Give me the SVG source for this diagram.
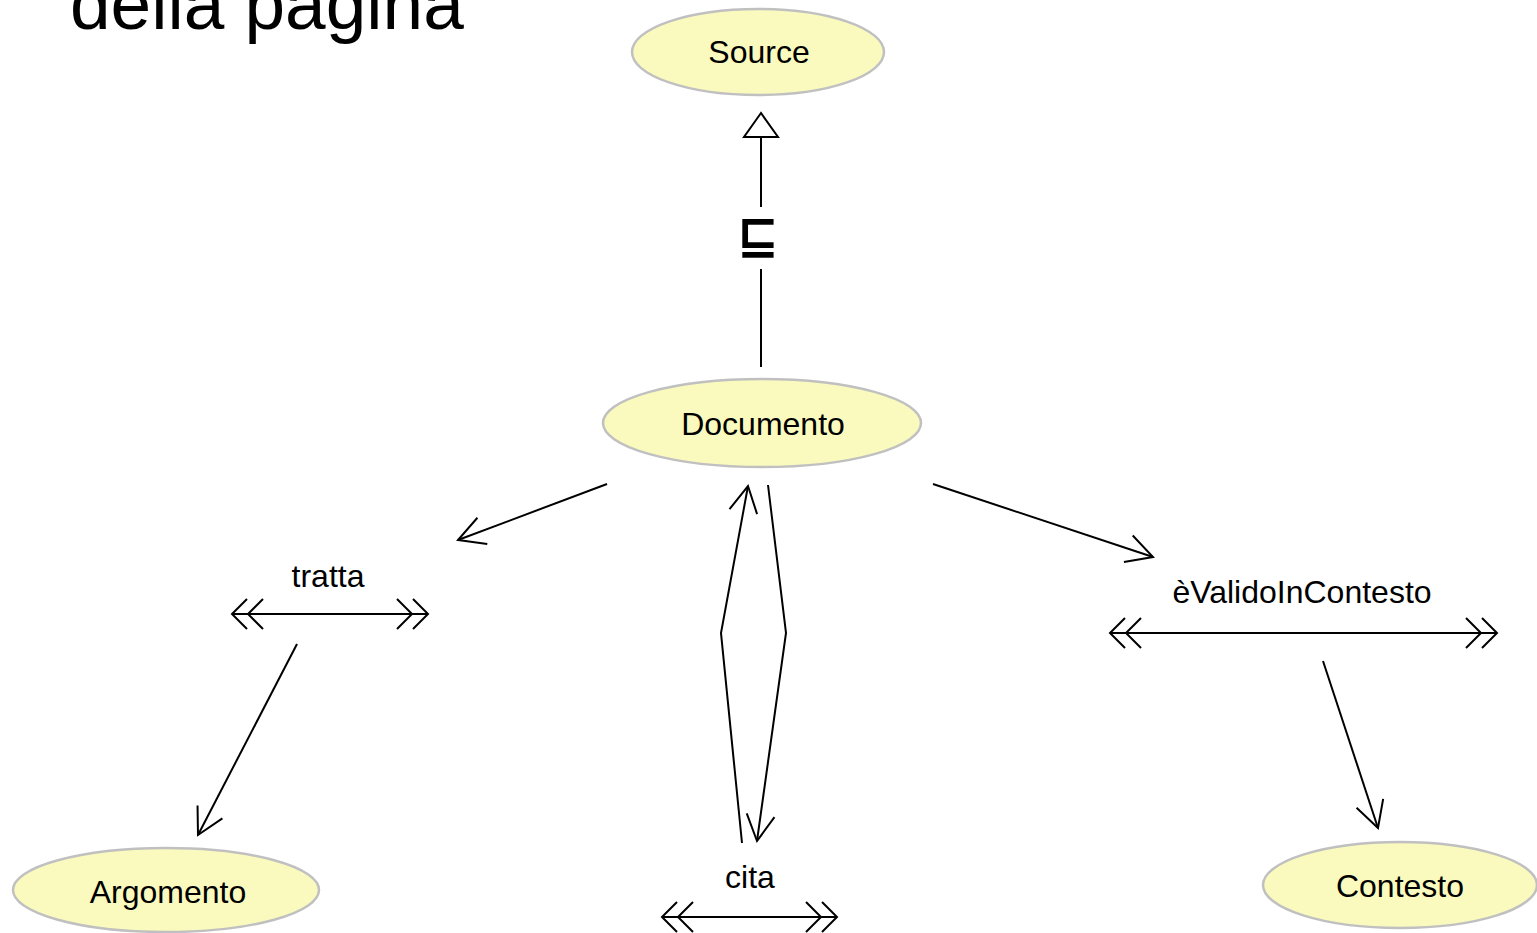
<svg xmlns="http://www.w3.org/2000/svg" xmlns:xlink="http://www.w3.org/1999/xlink" width="1537" height="933" viewBox="0 0 1537 933">
<style>
.node ellipse{fill:#fafabe;stroke:#c0c0c0;stroke-width:2.5}
.lbl{font-family:"Liberation Sans",Arial,sans-serif;font-size:32px;fill:#000;text-anchor:middle}
.edge{fill:none;stroke:#000;stroke-width:2}
.title{font-family:"Liberation Sans",Arial,sans-serif;font-size:73px;fill:#000}
</style>
<defs>
<marker id="open" markerUnits="userSpaceOnUse" markerWidth="60" markerHeight="60" refX="0" refY="0" viewBox="-40 -30 60 60" orient="auto" overflow="visible">
<path d="M-26,-14 L0,0 L-26,14" fill="none" stroke="#000" stroke-width="2"/>
</marker>
<path id="dchevL" d="M15,-15 L0,0 L15,15 M31,-15 L16,0 L31,15" fill="none" stroke="#000" stroke-width="2"/>
<path id="dchevR" d="M-15,-15 L0,0 L-15,15 M-31,-15 L-16,0 L-31,15" fill="none" stroke="#000" stroke-width="2"/>
</defs>

<text class="title" x="70" y="29">della pagina</text>

<g id="connectors">
  <!-- subclass Documento -> Source -->
  <g id="subclass">
    <polygon points="761,113 744,137 778,137" fill="#fff" stroke="#000" stroke-width="2"/>
    <line class="edge" x1="761" y1="137" x2="761" y2="207"/>
    <text x="758" y="252" font-family="DejaVu Sans,sans-serif" font-weight="bold" font-size="50" text-anchor="middle">⊑</text>
    <line class="edge" x1="761" y1="269" x2="761" y2="367"/>
  </g>
  <!-- tratta -->
  <g id="tratta">
    <line class="edge" x1="607" y1="484" x2="458" y2="540" marker-end="url(#open)"/>
    <text class="lbl" x="328" y="587">tratta</text>
    <line class="edge" x1="232" y1="614" x2="428" y2="614"/>
    <use xlink:href="#dchevL" transform="translate(232,614)"/>
    <use xlink:href="#dchevR" transform="translate(428,614)"/>
    <line class="edge" x1="297" y1="644" x2="198" y2="835" marker-end="url(#open)"/>
  </g>
  <!-- èValidoInContesto -->
  <g id="evalido">
    <line class="edge" x1="933" y1="484" x2="1153" y2="557" marker-end="url(#open)"/>
    <text class="lbl" x="1302" y="603">èValidoInContesto</text>
    <line class="edge" x1="1110" y1="633" x2="1497" y2="633"/>
    <use xlink:href="#dchevL" transform="translate(1110,633)"/>
    <use xlink:href="#dchevR" transform="translate(1497,633)"/>
    <line class="edge" x1="1323" y1="661" x2="1378" y2="828" marker-end="url(#open)"/>
  </g>
  <!-- cita -->
  <g id="cita">
    <polyline class="edge" points="742,843 721,633 748,486" marker-end="url(#open)"/>
    <polyline class="edge" points="768,485 786,633 757,841" marker-end="url(#open)"/>
    <text class="lbl" x="750" y="888">cita</text>
    <line class="edge" x1="662" y1="917" x2="837" y2="917"/>
    <use xlink:href="#dchevL" transform="translate(662,917)"/>
    <use xlink:href="#dchevR" transform="translate(837,917)"/>
  </g>
</g>

<g id="Source" class="node">
  <ellipse cx="758" cy="52" rx="126" ry="43"/>
  <text class="lbl" x="759" y="63">Source</text>
</g>
<g id="Documento" class="node">
  <ellipse cx="762" cy="423" rx="159" ry="44"/>
  <text class="lbl" x="763" y="435">Documento</text>
</g>
<g id="Argomento" class="node">
  <ellipse cx="166" cy="890" rx="153" ry="42"/>
  <text class="lbl" x="168" y="903">Argomento</text>
</g>
<g id="Contesto" class="node">
  <ellipse cx="1400" cy="885" rx="137" ry="43"/>
  <text class="lbl" x="1400" y="897">Contesto</text>
</g>
</svg>
